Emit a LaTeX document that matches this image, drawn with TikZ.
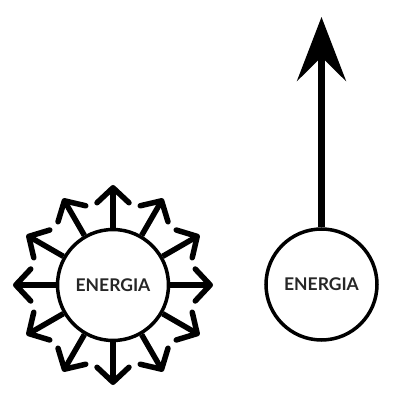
\documentclass[tikz,border=0pt]{standalone}
\usepackage{fontspec}
\setmainfont{Lato}
\usetikzlibrary{positioning, arrows.meta, calc}

\begin{document}
\begin{tikzpicture}[
  x=1pt, y=1pt,
  energy/.style={circle, draw, line width=3.5pt, fill=white, minimum size=111pt,
    inner sep=0pt, text=black!85, font=\fontsize{17.5}{20}\selectfont\bfseries},
  radiate/.style={line width=5.5pt,
    -{Straight Barb[length=15pt, width=32pt, line join=round, line cap=round]}},
  focused/.style={line width=7pt,
    -{Stealth[length=64pt, width=49pt, inset=24pt]}},
]
\useasboundingbox (0, 0) rectangle (400, 400);

% --- Energy spread in all directions ---
\node[energy] (energyL) at (113, 115) {ENERGIA};
\foreach \a in {0, 30, ..., 330} {
  \coordinate (tip\a) at ($(energyL.center) + (\a:100)$);
  \draw[radiate] (energyL.\a) -- (tip\a);
}

% --- Energy focused in one direction ---
\node[energy] (energyR) at (321.5, 115.5) {ENERGIA};
\coordinate (tipUp) at (321.5, 383);
\draw[focused] (energyR.north) -- (tipUp);

\end{tikzpicture}
\end{document}
